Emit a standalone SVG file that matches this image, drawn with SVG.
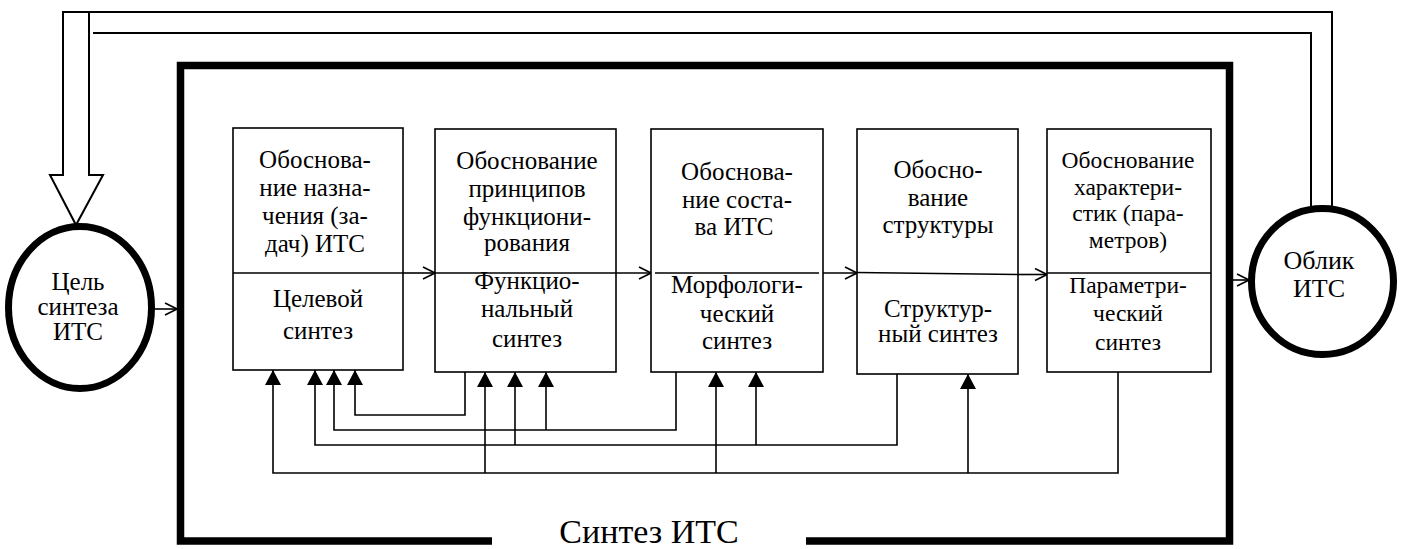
<svg xmlns="http://www.w3.org/2000/svg" width="1402" height="549" viewBox="0 0 1402 549">
<style>
  text { font-family: "Liberation Serif", "Times New Roman", serif; font-size: 25px; fill: #000; text-anchor: middle; }
  .t5 { font-size: 23.5px; }
  .c { font-size: 25px; }
  .c2 { font-size: 26px; }
  .big { font-size: 34px; }
  .box { fill: #fff; stroke: #000; stroke-width: 1.6; }
  .ln { fill: none; stroke: #000; stroke-width: 1.6; }
  .thin2 { fill: none; stroke: #000; stroke-width: 2; }
  .circ { fill: #fff; stroke: #000; stroke-width: 7; }
  .arr { marker-end: url(#open); }
  .fb { marker-end: url(#solid); }
</style>
<defs>
  <marker id="open" markerUnits="userSpaceOnUse" viewBox="0 0 14 14" refX="13" refY="7" markerWidth="14" markerHeight="14" orient="auto">
    <path d="M1,1 L13,7 L1,13" fill="none" stroke="#000" stroke-width="1.6"/>
  </marker>
  <marker id="solid" markerUnits="userSpaceOnUse" viewBox="0 0 16 16" refX="15" refY="8" markerWidth="16" markerHeight="16" orient="auto">
    <path d="M0,0 L15,8 L0,16 z" fill="#000"/>
  </marker>
</defs>

<g id="frame">
  <path d="M492,541 H180.5 V65.5 H1229.5 V541 H806" fill="none" stroke="#000" stroke-width="7.5"/>
  <text class="big" x="649" y="543">Синтез ИТС</text>
</g>

<g id="connectors">
  <path class="thin2" d="M1311,207 V33 H93"/>
  <path class="thin2" d="M1332,207 V12 H63 V175 H50 L76,225 L103,175 H89 V12"/>
  <line class="ln arr" x1="155" y1="309" x2="177" y2="309"/>
  <line class="ln arr" x1="1233" y1="280" x2="1249" y2="280"/>
  <line class="ln arr" x1="403" y1="273" x2="435" y2="273"/>
  <line class="ln arr" x1="616" y1="273" x2="651" y2="273"/>
  <line class="ln arr" x1="823" y1="273" x2="857" y2="273"/>
  <line class="ln arr" x1="1018" y1="274.5" x2="1047" y2="274.5"/>
  <path class="ln fb" d="M465,372 V415 H355 V370"/>
  <path class="ln fb" d="M676,372 V430 H334 V370"/>
  <path class="ln fb" d="M546,430 V372"/>
  <path class="ln fb" d="M897,374 V445 H315 V370"/>
  <path class="ln fb" d="M515,445 V372"/>
  <path class="ln fb" d="M756,445 V372"/>
  <path class="ln fb" d="M1118,372 V473 H273 V370"/>
  <path class="ln fb" d="M485,473 V372"/>
  <path class="ln fb" d="M716,473 V372"/>
  <path class="ln fb" d="M968,473 V374"/>
</g>

<g id="goal">
  <ellipse class="circ" cx="80" cy="307.5" rx="71.5" ry="81"/>
  <text class="c" x="78" y="290">Цель</text>
  <text class="c" x="78" y="315">синтеза</text>
  <text class="c" x="78" y="340">ИТС</text>
</g>

<g id="appearance">
  <ellipse class="circ" cx="1322.5" cy="281.5" rx="71" ry="73"/>
  <text class="c2" x="1319" y="269">Облик</text>
  <text class="c2" x="1319" y="297">ИТС</text>
</g>

<g id="box1">
  <rect class="box" x="233" y="128" width="170" height="242"/>
  <line class="ln" x1="233" y1="273" x2="403" y2="273"/>
  <text x="315" y="168">Обоснова-</text>
  <text x="315" y="196">ние назна-</text>
  <text x="315" y="224">чения (за-</text>
  <text x="315" y="252">дач) ИТС</text>
  <text x="318" y="307">Целевой</text>
  <text x="318" y="339">синтез</text>
</g>

<g id="box2">
  <rect class="box" x="435" y="129" width="181" height="243"/>
  <line class="ln" x1="435" y1="273" x2="616" y2="273"/>
  <text x="527" y="169">Обоснование</text>
  <text x="527" y="197">принципов</text>
  <text x="527" y="225">функциони-</text>
  <text x="527" y="251">рования</text>
  <text x="527" y="289">Функцио-</text>
  <text x="527" y="317">нальный</text>
  <text x="527" y="347">синтез</text>
</g>

<g id="box3">
  <rect class="box" x="651" y="129" width="172" height="243"/>
  <line class="ln" x1="655" y1="273" x2="819" y2="273"/>
  <text x="737" y="180">Обоснова-</text>
  <text x="737" y="208">ние соста-</text>
  <text x="734" y="235">ва ИТС</text>
  <text x="737" y="293">Морфологи-</text>
  <text x="737" y="322">ческий</text>
  <text x="737" y="349">синтез</text>
</g>

<g id="box4">
  <rect class="box" x="857" y="129" width="161" height="245"/>
  <line class="ln" x1="857" y1="272.5" x2="1018" y2="274.5"/>
  <text x="938" y="178">Обосно-</text>
  <text x="938" y="206">вание</text>
  <text x="938" y="233">структуры</text>
  <text x="938" y="317">Структур-</text>
  <text x="938" y="342">ный синтез</text>
</g>

<g id="box5">
  <rect class="box" x="1047" y="129" width="164" height="243"/>
  <line class="ln" x1="1047" y1="273" x2="1211" y2="273"/>
  <text class="t5" x="1128" y="168">Обоснование</text>
  <text class="t5" x="1128" y="195">характери-</text>
  <text class="t5" x="1128" y="221">стик (пара-</text>
  <text class="t5" x="1128" y="248">метров)</text>
  <text class="t5" x="1128" y="293">Параметри-</text>
  <text class="t5" x="1128" y="321">ческий</text>
  <text class="t5" x="1128" y="350">синтез</text>
</g>
</svg>
